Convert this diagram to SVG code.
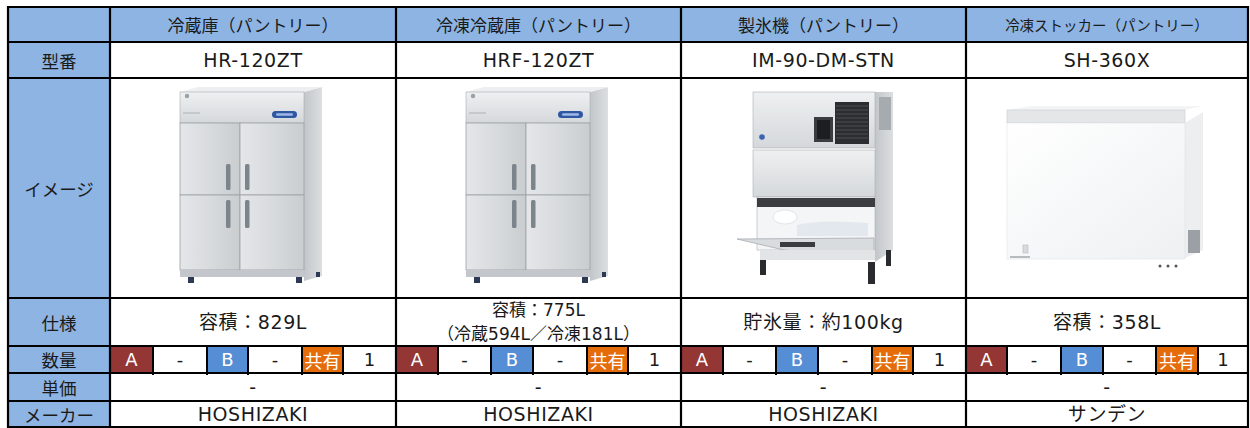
<svg xmlns="http://www.w3.org/2000/svg" xmlns:xlink="http://www.w3.org/1999/xlink" width="1250" height="428" viewBox="0 0 1250 428">
<style>
text{font-family:"DejaVu Sans","Noto Sans CJK JP",sans-serif;fill:#1a1a1a;text-anchor:middle;dominant-baseline:central}
.h{font-family:"Noto Sans CJK JP",sans-serif;font-size:17px}
.h4{font-family:"Noto Sans CJK JP",sans-serif;font-size:14.5px}
.lbl{font-family:"Noto Sans CJK JP",sans-serif;font-size:17.5px}
.b{font-size:19px;letter-spacing:0.6px}
.s{font-size:17px}
.q{font-size:18px}
.w{fill:#ffffff}
.hd{fill:#8db4e2}
.ca{fill:#943634}
.cb{fill:#558ed5}
.cs{fill:#e46c0a}
.grid line{stroke:#000;stroke-width:2.2}
.sub line{stroke:#000;stroke-width:2}
</style>
<defs>
<linearGradient id="steel" x1="0" y1="0" x2="1" y2="0">
<stop offset="0" stop-color="#e4e6e8"/><stop offset="0.5" stop-color="#d8dbde"/><stop offset="1" stop-color="#c9cdd0"/>
</linearGradient>
<linearGradient id="steelV" x1="0" y1="0" x2="0" y2="1">
<stop offset="0" stop-color="#eef0f1"/><stop offset="1" stop-color="#d5d8db"/>
</linearGradient>
<linearGradient id="side" x1="0" y1="0" x2="1" y2="0">
<stop offset="0" stop-color="#c2c6ca"/><stop offset="1" stop-color="#dcdfe1"/>
</linearGradient>
<linearGradient id="whiteBody" x1="0" y1="0" x2="1" y2="1">
<stop offset="0" stop-color="#ffffff"/><stop offset="1" stop-color="#eef0f2"/>
</linearGradient>
<g id="fridge">
<polygon points="304,92 322,87 322,276 304,281" fill="url(#side)"/>
<polygon points="180,92 304,92 322,87 198,87" fill="#eceeef"/>
<rect x="180" y="92" width="124" height="31" fill="url(#steelV)" stroke="#a8adb2" stroke-width="0.6"/>
<circle cx="187" cy="96" r="2.2" fill="#9aa0a6"/>
<line x1="183" y1="113" x2="200" y2="113" stroke="#b5b9bd" stroke-width="1.2"/>
<rect x="272" y="111" width="25" height="7" rx="3.5" fill="#2f56a3"/>
<rect x="276" y="113.3" width="17" height="2.4" rx="1.2" fill="#9fb8e6"/>
<rect x="180" y="123" width="60" height="72" fill="url(#steel)" stroke="#9ba1a7" stroke-width="0.8"/>
<rect x="240" y="123" width="64" height="72" fill="url(#steel)" stroke="#9ba1a7" stroke-width="0.8"/>
<rect x="180" y="195" width="60" height="75" fill="url(#steel)" stroke="#9ba1a7" stroke-width="0.8"/>
<rect x="240" y="195" width="64" height="75" fill="url(#steel)" stroke="#9ba1a7" stroke-width="0.8"/>
<rect x="180" y="270" width="124" height="7" fill="#c3c7cb"/>
<rect x="226" y="164" width="4.5" height="26" rx="1.5" fill="#7c848c"/>
<rect x="245" y="164" width="4.5" height="26" rx="1.5" fill="#7c848c"/>
<rect x="226" y="200" width="4.5" height="28" rx="1.5" fill="#7c848c"/>
<rect x="245" y="200" width="4.5" height="28" rx="1.5" fill="#7c848c"/>
<rect x="188" y="277" width="6" height="6" fill="#2c3a55"/>
<rect x="296" y="277" width="6" height="6" fill="#2c3a55"/>
<rect x="316" y="272" width="4" height="5" fill="#2c3a55"/>
</g>
</defs>

<g id="table-bg">
<rect x="8" y="7" width="1240" height="420" fill="#ffffff"/>
<rect class="hd" x="8" y="7" width="1240" height="35"/>
<rect class="hd" x="8" y="7" width="102" height="420"/>
</g>

<g id="qty-colors">
<rect class="ca" x="110" y="346" width="43" height="27"/>
<rect class="cb" x="207" y="346" width="41" height="27"/>
<rect class="cs" x="302" y="346" width="41" height="27"/>
<rect class="ca" x="396" y="346" width="42" height="27"/>
<rect class="cb" x="491" y="346" width="42" height="27"/>
<rect class="cs" x="587" y="346" width="41" height="27"/>
<rect class="ca" x="681" y="346" width="42" height="27"/>
<rect class="cb" x="776" y="346" width="42" height="27"/>
<rect class="cs" x="872" y="346" width="41" height="27"/>
<rect class="ca" x="966" y="346" width="41" height="27"/>
<rect class="cb" x="1061" y="346" width="42" height="27"/>
<rect class="cs" x="1156" y="346" width="42" height="27"/>
</g>

<g id="grid" class="grid">
<line x1="7" y1="7" x2="1249" y2="7"/>
<line x1="7" y1="42" x2="1249" y2="42"/>
<line x1="7" y1="78" x2="1249" y2="78"/>
<line x1="7" y1="298" x2="1249" y2="298"/>
<line x1="7" y1="346" x2="1249" y2="346"/>
<line x1="7" y1="373" x2="1249" y2="373"/>
<line x1="7" y1="401" x2="1249" y2="401"/>
<line x1="7" y1="427" x2="1249" y2="427"/>
<line x1="8" y1="6" x2="8" y2="428"/>
<line x1="110" y1="6" x2="110" y2="428"/>
<line x1="396" y1="6" x2="396" y2="428"/>
<line x1="681" y1="6" x2="681" y2="428"/>
<line x1="966" y1="6" x2="966" y2="428"/>
<line x1="1248" y1="6" x2="1248" y2="428"/>
</g>
<g id="qty-dividers" class="sub">
<line x1="153" y1="346" x2="153" y2="375"/><line x1="207" y1="346" x2="207" y2="375"/><line x1="248" y1="346" x2="248" y2="375"/><line x1="302" y1="346" x2="302" y2="375"/><line x1="343" y1="346" x2="343" y2="375"/>
<line x1="438" y1="346" x2="438" y2="375"/><line x1="491" y1="346" x2="491" y2="375"/><line x1="533" y1="346" x2="533" y2="375"/><line x1="587" y1="346" x2="587" y2="375"/><line x1="628" y1="346" x2="628" y2="375"/>
<line x1="723" y1="346" x2="723" y2="375"/><line x1="776" y1="346" x2="776" y2="375"/><line x1="818" y1="346" x2="818" y2="375"/><line x1="872" y1="346" x2="872" y2="375"/><line x1="913" y1="346" x2="913" y2="375"/>
<line x1="1007" y1="346" x2="1007" y2="375"/><line x1="1061" y1="346" x2="1061" y2="375"/><line x1="1103" y1="346" x2="1103" y2="375"/><line x1="1156" y1="346" x2="1156" y2="375"/><line x1="1198" y1="346" x2="1198" y2="375"/>
</g>

<g id="row-labels">
<text class="lbl" x="59" y="60">型番</text>
<text class="lbl" x="59" y="188">イメージ</text>
<text class="lbl" x="59" y="322">仕様</text>
<text class="lbl" x="59" y="359.5">数量</text>
<text class="lbl" x="59" y="387">単価</text>
<text class="lbl" x="59" y="414">メーカー</text>
</g>

<g id="col-refrigerator">
<text class="h" x="253" y="24.5">冷蔵庫（パントリー）</text>
<text class="b" x="253" y="60">HR-120ZT</text>
<use xlink:href="#fridge"/>
<text class="b" x="253" y="322">容積：829L</text>
<text class="q w" x="131.5" y="359.5">A</text><text class="q" x="180" y="359.5">-</text><text class="q w" x="227.5" y="359.5">B</text><text class="q" x="275" y="359.5">-</text><text class="q w" x="322.5" y="359.5" style="font-family:'Noto Sans CJK JP',sans-serif">共有</text><text class="q" x="369.5" y="359.5">1</text>
<text class="b" x="253" y="387">-</text>
<text class="b" x="253" y="414">HOSHIZAKI</text>
</g>

<g id="col-freezer-refrigerator">
<text class="h" x="538.5" y="24.5">冷凍冷蔵庫（パントリー）</text>
<text class="b" x="538.5" y="60">HRF-120ZT</text>
<use xlink:href="#fridge" x="286"/>
<text class="s" x="538.5" y="310">容積：775L</text>
<text class="s" x="538.5" y="334">（冷蔵594L／冷凍181L）</text>
<text class="q w" x="417" y="359.5">A</text><text class="q" x="464.5" y="359.5">-</text><text class="q w" x="512" y="359.5">B</text><text class="q" x="560" y="359.5">-</text><text class="q w" x="607.5" y="359.5" style="font-family:'Noto Sans CJK JP',sans-serif">共有</text><text class="q" x="654.5" y="359.5">1</text>
<text class="b" x="538.5" y="387">-</text>
<text class="b" x="538.5" y="414">HOSHIZAKI</text>
</g>

<g id="col-ice-machine">
<text class="h" x="823.5" y="24.5">製氷機（パントリー）</text>
<text class="b" x="823.5" y="60">IM-90-DM-STN</text>
<g id="ice-machine-drawing">
<polygon points="875,92 893,92 893,250 875,262" fill="url(#side)"/>
<rect x="753" y="92" width="122" height="56" fill="url(#steelV)" stroke="#a9aeb3" stroke-width="0.6"/>
<rect x="835" y="102" width="34" height="42" fill="#2b2d30"/>
<g stroke="#55595e" stroke-width="0.8">
<line x1="836" y1="106" x2="868" y2="106"/><line x1="836" y1="110" x2="868" y2="110"/><line x1="836" y1="114" x2="868" y2="114"/><line x1="836" y1="118" x2="868" y2="118"/><line x1="836" y1="122" x2="868" y2="122"/><line x1="836" y1="126" x2="868" y2="126"/><line x1="836" y1="130" x2="868" y2="130"/><line x1="836" y1="134" x2="868" y2="134"/><line x1="836" y1="138" x2="868" y2="138"/>
</g>
<rect x="814" y="117" width="19" height="25" fill="#3a3c40"/>
<rect x="817" y="120" width="13" height="19" fill="#1d1e20"/>
<circle cx="762" cy="137" r="2.8" fill="#3b64b0"/>
<rect x="879" y="97" width="12" height="33" fill="#a6abb0"/>
<rect x="753" y="150" width="122" height="47" fill="url(#steelV)" stroke="#a9aeb3" stroke-width="0.6"/>
<rect x="757" y="197" width="118" height="53" fill="#f4f5f6" stroke="#a9aeb3" stroke-width="0.6"/>
<rect x="757" y="198" width="118" height="9" fill="#3b3d41"/>
<ellipse cx="785" cy="217" rx="12" ry="7" fill="#ffffff" stroke="#d0d4d8" stroke-width="0.6"/>
<path d="M797,225 Q820,219 868,223 L868,236 L797,236 Z" fill="#e3e8ee"/>
<polygon points="737,239 874,238 874,259 784,250" fill="#d9dcdf" stroke="#a7acb1" stroke-width="0.8"/>
<rect x="780" y="242" width="35" height="5" fill="#3a3c40"/>
<rect x="760" y="250" width="115" height="10" fill="#e2e4e6"/>
<rect x="760" y="260" width="6" height="15" fill="#2a2b2e"/>
<rect x="868" y="262" width="7" height="22" fill="#2a2b2e"/>
<rect x="886" y="250" width="5" height="16" fill="#2a2b2e"/>
</g>
<text class="b" x="823.5" y="322">貯氷量：約100kg</text>
<text class="q w" x="702" y="359.5">A</text><text class="q" x="749.5" y="359.5">-</text><text class="q w" x="797" y="359.5">B</text><text class="q" x="845" y="359.5">-</text><text class="q w" x="892.5" y="359.5" style="font-family:'Noto Sans CJK JP',sans-serif">共有</text><text class="q" x="939.5" y="359.5">1</text>
<text class="b" x="823.5" y="387">-</text>
<text class="b" x="823.5" y="414">HOSHIZAKI</text>
</g>

<g id="col-stocker">
<text class="h4" x="1107" y="24.5">冷凍ストッカー（パントリー）</text>
<text class="b" x="1107" y="60">SH-360X</text>
<g id="stocker-drawing">
<polygon points="1185,123 1203,112 1203,250 1185,258" fill="#eceef0"/>
<polygon points="1007,110 1185,110 1203,106 1030,106" fill="#f3f4f5"/>
<rect x="1007" y="110" width="178" height="13" fill="#e4e6e8" stroke="#c9ccd0" stroke-width="0.6"/>
<rect x="1007" y="123" width="178" height="136" fill="url(#whiteBody)" stroke="#e2e4e7" stroke-width="0.6"/>
<rect x="1188" y="230" width="12" height="23" fill="#9aa0a5"/>
<rect x="1023" y="245" width="5" height="8" fill="#d8dbde" stroke="#aaaeb2" stroke-width="0.5"/>
<rect x="1010" y="256" width="20" height="2" fill="#b7bbbf"/>
<circle cx="1160" cy="266" r="1.5" fill="#555"/>
<circle cx="1168" cy="266" r="1.5" fill="#555"/>
<circle cx="1176" cy="266" r="1.5" fill="#555"/>
</g>
<text class="b" x="1107" y="322">容積：358L</text>
<text class="q w" x="986.5" y="359.5">A</text><text class="q" x="1034" y="359.5">-</text><text class="q w" x="1082" y="359.5">B</text><text class="q" x="1129.5" y="359.5">-</text><text class="q w" x="1177" y="359.5" style="font-family:'Noto Sans CJK JP',sans-serif">共有</text><text class="q" x="1223" y="359.5">1</text>
<text class="b" x="1107" y="387">-</text>
<text class="b" x="1107" y="414">サンデン</text>
</g>
</svg>
